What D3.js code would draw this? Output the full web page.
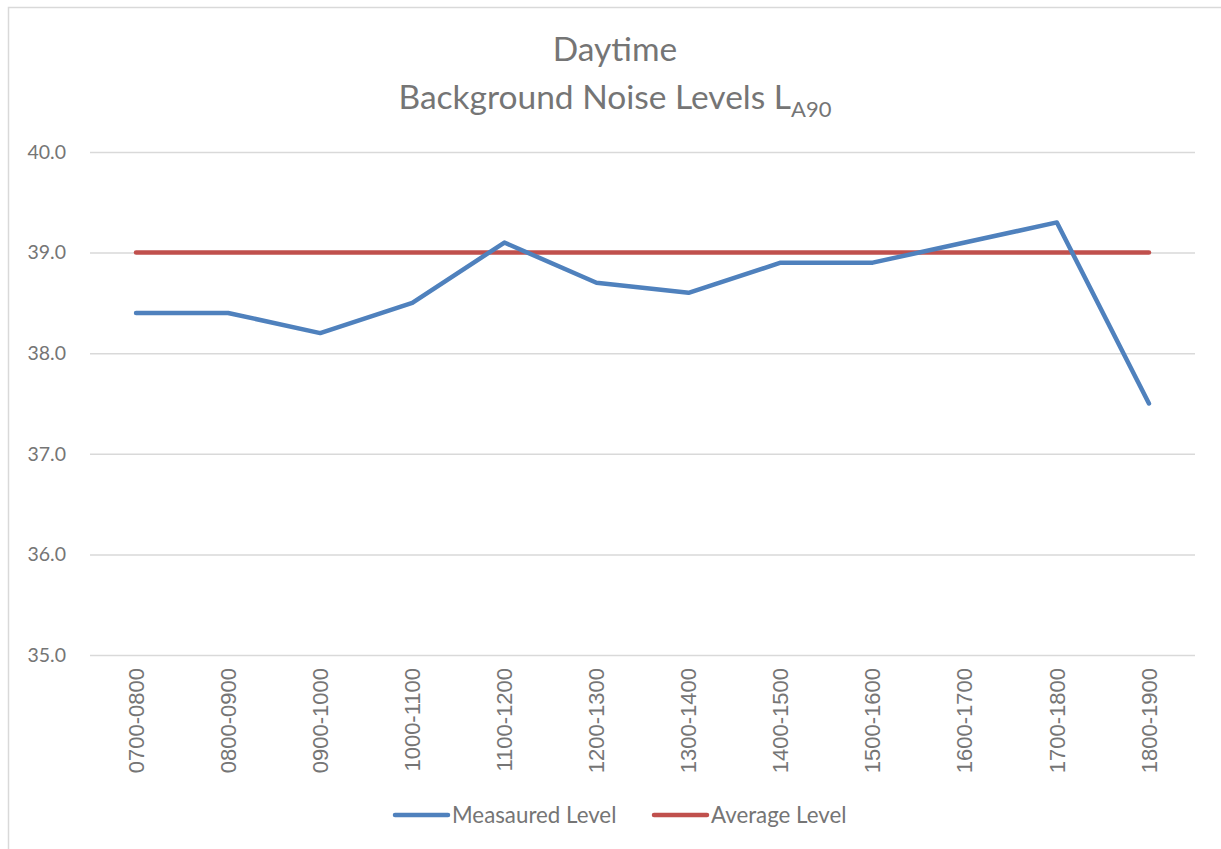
<!DOCTYPE html>
<html>
<head>
<meta charset="utf-8">
<script src="https://cdnjs.cloudflare.com/ajax/libs/d3/7.8.5/d3.min.js"></script>
<style>
  body { margin: 0; background: #fff; }
  text { font-family: Lato, "Open Sans", sans-serif; fill: #757575; }
</style>
</head>
<body>
<div id="chart"></div>
<script>
var width = 1221;
var height = 849;

var categories = ["0700-0800", "0800-0900", "0900-1000", "1000-1100", "1100-1200", "1200-1300",
  "1300-1400", "1400-1500", "1500-1600", "1600-1700", "1700-1800", "1800-1900"];
var measured = [38.4, 38.4, 38.2, 38.5, 39.1, 38.7, 38.6, 38.9, 38.9, 39.1, 39.3, 37.5];
var average = [39.0, 39.0, 39.0, 39.0, 39.0, 39.0, 39.0, 39.0, 39.0, 39.0, 39.0, 39.0];
var yTicks = [35, 36, 37, 38, 39, 40];

var plot = {left: 90, right: 1195, top: 152, bottom: 655};

var svg = d3.select("#chart")
  .append("svg")
  .attr("width", width)
  .attr("height", height);

// chart border (runs off the page on the right and bottom)
svg.append("rect")
  .attr("x", 8.5)
  .attr("y", 7.5)
  .attr("width", 1300)
  .attr("height", 1000)
  .attr("fill", "none")
  .attr("stroke", "#d9d9d9")
  .attr("stroke-width", 1.5);

var x = d3.scaleBand()
  .domain(categories)
  .range([plot.left, plot.right]);

var y = d3.scaleLinear()
  .domain([35, 40])
  .range([plot.bottom, plot.top]);

// gridlines
var yAxis = d3.axisLeft(y)
  .tickValues(yTicks)
  .tickSize(-(plot.right - plot.left))
  .tickPadding(24)
  .tickFormat(d3.format(".1f"));

var gy = svg.append("g")
  .attr("transform", "translate(" + plot.left + ",0)")
  .call(yAxis);
gy.select(".domain").remove();
gy.selectAll(".tick line").attr("stroke", "#d9d9d9").attr("stroke-width", 1.5);
gy.selectAll(".tick text")
  .attr("font-size", 19.5)
  .attr("fill", "#757575")
  .style("font-family", "Lato, sans-serif");

// category labels
var xAxis = d3.axisBottom(x).tickSize(0).tickPadding(0);
var gx = svg.append("g")
  .attr("transform", "translate(0," + plot.bottom + ")")
  .call(xAxis);
gx.select(".domain").remove();
gx.selectAll(".tick text")
  .attr("transform", "rotate(-90)")
  .attr("x", -13)
  .attr("y", 0)
  .attr("dy", "0.35em")
  .attr("text-anchor", "end")
  .attr("font-size", 22)
  .attr("fill", "#757575")
  .style("font-family", "'Liberation Sans', Arial, sans-serif");

var line = d3.line()
  .x(function(d, i) { return x(categories[i]) + x.bandwidth() / 2; })
  .y(function(d) { return y(d); });

svg.append("path")
  .datum(average)
  .attr("d", line)
  .attr("fill", "none")
  .attr("stroke", "#C0504D")
  .attr("stroke-width", 4.5)
  .attr("stroke-linecap", "round");

svg.append("path")
  .datum(measured)
  .attr("d", line)
  .attr("fill", "none")
  .attr("stroke", "#4F81BD")
  .attr("stroke-width", 4.5)
  .attr("stroke-linecap", "round")
  .attr("stroke-linejoin", "round");

// title
svg.append("text")
  .attr("x", 615)
  .attr("y", 61)
  .attr("text-anchor", "middle")
  .attr("font-size", 33.5)
  .text("Daytime");

var t2 = svg.append("text")
  .attr("x", 615)
  .attr("y", 109)
  .attr("text-anchor", "middle")
  .attr("font-size", 33.5);
t2.append("tspan").text("Background Noise Levels L");
t2.append("tspan").attr("font-size", 22).attr("dy", 8).text("A90");

// legend
var legendItems = [
  {name: "Measaured Level", color: "#4F81BD", x: 395},
  {name: "Average Level", color: "#C0504D", x: 654}
];

var legend = svg.selectAll(".legend")
  .data(legendItems)
  .enter()
  .append("g")
  .attr("class", "legend")
  .attr("transform", function(d) { return "translate(" + d.x + ",815)"; });

legend.append("line")
  .attr("x1", 0)
  .attr("x2", 53)
  .attr("stroke", function(d) { return d.color; })
  .attr("stroke-width", 4.5)
  .attr("stroke-linecap", "round");

legend.append("text")
  .attr("x", 57)
  .attr("dy", "0.35em")
  .attr("font-size", 22.3)
  .text(function(d) { return d.name; });
</script>
</body>
</html>
